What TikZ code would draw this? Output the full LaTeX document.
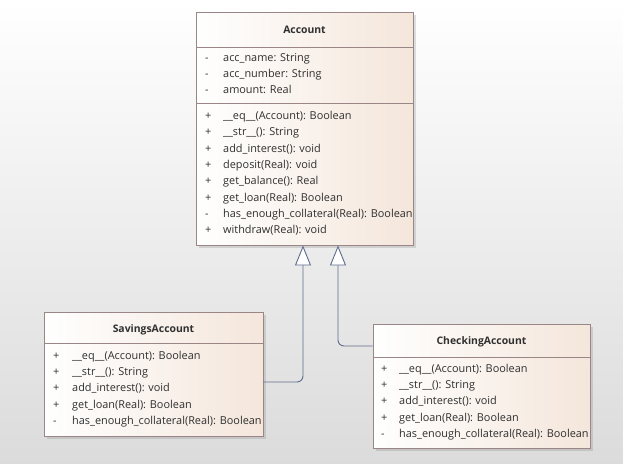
\documentclass[tikz,border=0pt]{standalone}
\usepackage{fontspec}
\setmainfont{Open Sans}
\usetikzlibrary{arrows.meta, shadows}

\definecolor{umlline}{HTML}{9A8686}
\definecolor{umlfill}{HTML}{F4E6DB}
\definecolor{umllink}{HTML}{5D6B8C}
\definecolor{umltext}{HTML}{303030}

\begin{document}
\begin{tikzpicture}[x=1pt, y=-1pt, font=\fontsize{10.9}{13}\selectfont, text=umltext,
	umlclass/.style={draw=umlline, line width=.9pt, left color=white, right color=umlfill, inner sep=0pt,
		drop shadow={shadow xshift=2.5pt, shadow yshift=-2.5pt, opacity=.25}},
	title/.style={font=\fontsize{10.4}{12}\selectfont\bfseries, inner sep=0pt, text height=7.5pt, text depth=2.5pt},
	member/.style={anchor=west, inner sep=0pt, text height=8pt, text depth=3pt},
	inherit/.style={draw=umllink, line width=.9pt, rounded corners=6pt,
		-{Triangle[open, length=20pt, width=16pt, fill=white]}}]
	% background
	\useasboundingbox (0,0) rectangle (623,463);
	\fill[top color=white, bottom color=black!14] (0,0) rectangle (623,463);
	
	% Account
	\node[umlclass, minimum width=217pt, minimum height=233pt] (acc) at (304.5,128.5) {};
	\node[title] (acc-t) at (304.5,31) {Account};
	\draw[umlline, line width=.9pt] (196,47) -- (413,47) (196,103) -- (413,103);
	\foreach \v/\t [count=\i] in {-/acc\_name: String, -/acc\_number: String, -/amount: Real}
		\node[member] (acc-a\i) at (205,59+16*\i-16) {\makebox[18pt][l]{\v}\t};
	\foreach \v/\t [count=\i] in {+/\_\_eq\_\_(Account): Boolean, +/\_\_str\_\_(): String,
		+/add\_interest(): void, +/deposit(Real): void, +/get\_balance(): Real,
		+/get\_loan(Real): Boolean, -/has\_enough\_collateral(Real): Boolean, +/withdraw(Real): void}
		\node[member] (acc-o\i) at (205,117+16.3*\i-16.3) {\makebox[18pt][l]{\v}\t};
	
	% SavingsAccount
	\node[umlclass, minimum width=219pt, minimum height=124pt] (sav) at (153.5,374) {};
	\node[title] (sav-t) at (153.5,330) {SavingsAccount};
	\draw[umlline, line width=.9pt] (44,343) -- (263,343);
	\foreach \v/\t [count=\i] in {+/\_\_eq\_\_(Account): Boolean, +/\_\_str\_\_(): String,
		+/add\_interest(): void, +/get\_loan(Real): Boolean, -/has\_enough\_collateral(Real): Boolean}
		\node[member] (sav-o\i) at (53,357+16.2*\i-16.2) {\makebox[19pt][l]{\v}\t};
	
	% CheckingAccount
	\node[umlclass, minimum width=217pt, minimum height=124pt] (chk) at (481.5,386) {};
	\node[title] (chk-t) at (481.5,342) {CheckingAccount};
	\draw[umlline, line width=.9pt] (373,357) -- (590,357);
	\foreach \v/\t [count=\i] in {+/\_\_eq\_\_(Account): Boolean, +/\_\_str\_\_(): String,
		+/add\_interest(): void, +/get\_loan(Real): Boolean, -/has\_enough\_collateral(Real): Boolean}
		\node[member] (chk-o\i) at (381,370+16.2*\i-16.2) {\makebox[18pt][l]{\v}\t};
	
	% generalisations
	\draw[inherit] ([yshift=-8pt]sav.east) -| ([xshift=-1.5pt]acc.south);
	\draw[inherit] ([yshift=40pt]chk.west) -| ([xshift=33.5pt]acc.south);
\end{tikzpicture}
\end{document}
